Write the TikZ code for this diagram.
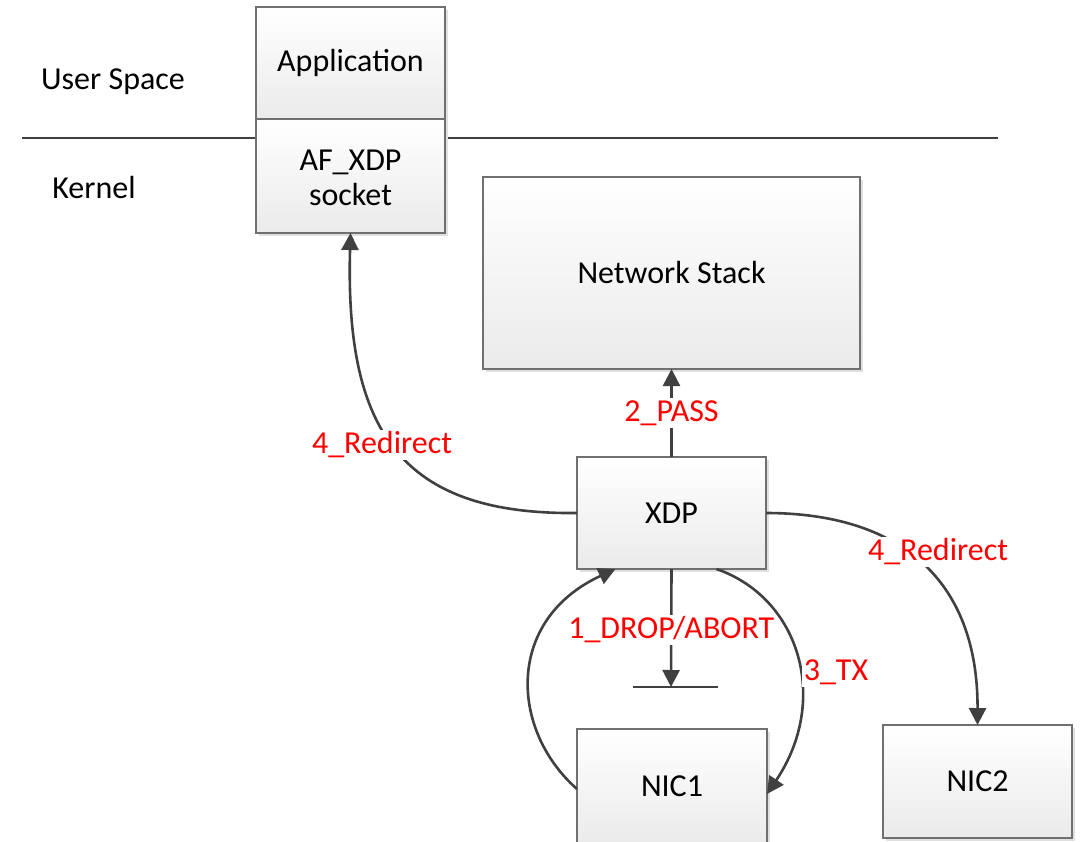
\documentclass[tikz,border=0pt]{standalone}
\usepackage{fontspec}
\setmainfont{Carlito}
\usetikzlibrary{arrows.meta,shadows}
\definecolor{lnc}{HTML}{404040}
\definecolor{bdc}{HTML}{707070}
\begin{document}
\begin{tikzpicture}[x=1pt,y=-1pt,
  font=\fontsize{32}{38}\selectfont,
  box/.style={draw=bdc,line width=1.2pt,top color=white,bottom color=black!8,
    drop shadow={shadow xshift=3pt,shadow yshift=-3pt,fill=black!12,opacity=1},
    inner sep=0pt,outer sep=0pt,align=center,text=black},
  conn/.style={draw=lnc,line width=2.6pt,-{Triangle[length=17pt,width=17pt]}},
  plain/.style={draw=lnc,line width=2.6pt},
  lbl/.style={text=red,fill=white,inner sep=2pt}]
\useasboundingbox (0,0) rectangle (1086,841);
\clip (0,0) rectangle (1086,841);
% separator line
\coordinate (sepL) at (22,138);
\coordinate (sepR) at (998,138);
\draw[plain,line width=2pt] (sepL) -- (sepR);
\node (us) at (113,82) {User Space};
\node (kn) at (94,187) {Kernel};
% boxes
\node[box,minimum width=189pt,minimum height=112pt] (app) at (350.5,63) {Application};
\node[box,minimum width=189pt,minimum height=114pt] (af) at (350.5,176) {};
\node[align=center,inner sep=0pt] (aft) at (350.5,178) {AF\_XDP\\[-3pt]socket};
\node[box,minimum width=377pt,minimum height=192pt] (ns) at (671.5,273) {Network Stack};
\node[box,minimum width=189pt,minimum height=112pt] (xdp) at (671.5,513) {XDP};
\node[box,minimum width=190pt,minimum height=116pt] (nic1) at (672,787) {\raisebox{2pt}{NIC1}};
\node[box,minimum width=189pt,minimum height=113pt] (nic2) at (977.5,781.5) {NIC2};
% 2_PASS
\draw[conn] (xdp.north) -- (ns.south) node[lbl,midway] {2\_PASS};
% 1_DROP/ABORT
\coordinate (drop) at (671,687);
\coordinate (dropL) at (633,687);
\coordinate (dropR) at (718,687);
\draw[plain] (dropL) -- (dropR);
\draw[conn] (xdp.south) -- (drop) node[lbl,pos=0.5,yshift=-2pt] {1\_DROP/ABORT};
% 3_TX
\draw[conn] ([xshift=45pt]xdp.south) .. controls (800,598) and (830,700) .. ([yshift=-7pt]nic1.east);
\node[lbl] (tx) at (836,672) {3\_TX};
% NIC1 -> XDP
\draw[conn] ([yshift=-2pt]nic1.west) .. controls (510,730) and (505,620) .. ([xshift=-56pt]xdp.south);
% 4_Redirect left
\draw[conn] (xdp.west) .. controls (400,515) and (345,430) .. (af.south);
\node[lbl] (rl) at (382,445) {4\_Redirect};
% 4_Redirect right
\draw[conn] (xdp.east) .. controls (900,513) and (978,580) .. (nic2.north);
\node[lbl] (rr) at (938,552) {4\_Redirect};
\end{tikzpicture}
\end{document}
